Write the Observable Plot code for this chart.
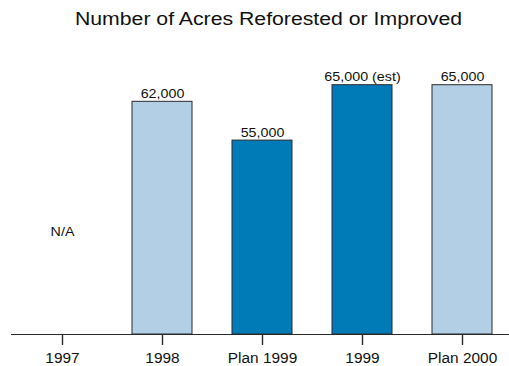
<!DOCTYPE html>
<html>
<head>
<meta charset="utf-8">
<script src="https://cdn.jsdelivr.net/npm/d3@7"></script>
<script src="https://cdn.jsdelivr.net/npm/@observablehq/plot@0.6"></script>
<style>
  body { margin: 0; background: #fff; }
  svg { display: block; }
</style>
</head>
<body>
<div id="chart"></div>
<script>
const title = "Number of Acres Reforested or Improved";
const categories = ["1997", "1998", "Plan 1999", "1999", "Plan 2000"];
const acres = [null, 62000, 55000, 65000, 65000];
const valueLabels = ["N/A", "62,000", "55,000", "65,000 (est)", "65,000"];
const barFills = ["none", "#b3cfe6", "#007bb8", "#007bb8", "#b3cfe6"];
const yDomain = [20000, 70000];

const rows = categories.map((category, i) => ({
  category,
  acres: acres[i],
  label: valueLabels[i],
  fill: barFills[i]
}));
const withValue = rows.filter(d => d.acres != null);
const missing = rows.filter(d => d.acres == null);

const chart = Plot.plot({
  width: 509,
  height: 366,
  marginLeft: 11,
  marginRight: 0,
  marginTop: 57,
  marginBottom: 32,
  style: { fontFamily: "'Liberation Sans', Arial, sans-serif", fontSize: "14px", color: "#222", background: "#fff" },
  x: { domain: categories, range: [10.75, 513.25], paddingInner: 0.4, paddingOuter: 0.2, label: null, axis: null },
  y: { domain: yDomain, axis: null },
  color: { type: "identity" },
  marks: [
    Plot.barY(withValue, { x: "category", y1: yDomain[0], y2: "acres", fill: "fill", stroke: "#2a2a2a", strokeWidth: 1 }),
    Plot.axisX({ tickSize: 11, tickPadding: 8, stroke: "#2a2a2a", strokeWidth: 1.4, fill: "#111", label: null }),
    Plot.ruleY([yDomain[0]], { stroke: "#2a2a2a", strokeWidth: 1.2 }),
    Plot.text(withValue, { x: "category", y: "acres", text: "label", lineAnchor: "bottom", dy: -4, fontSize: 13, fill: "#111" }),
    Plot.text(missing, { x: "category", text: "label", frameAnchor: "bottom", lineAnchor: "bottom", dy: -99, fontSize: 13, fill: "#111" }),
    Plot.text([title], { frameAnchor: "top", lineAnchor: "top", dx: 8, dy: -45, fontSize: 18, fill: "#111" })
  ]
});

document.getElementById("chart").append(chart);

// Widen the lettering a little, as in the printed original.
chart.querySelectorAll("text").forEach(t => {
  const size = parseFloat(getComputedStyle(t).fontSize);
  const k = size >= 17 ? 1.18 : 1.1;
  const len = t.getComputedTextLength();
  if (len > 0) {
    t.setAttribute("textLength", (len * k).toFixed(1));
    t.setAttribute("lengthAdjust", "spacingAndGlyphs");
  }
});
</script>
</body>
</html>
